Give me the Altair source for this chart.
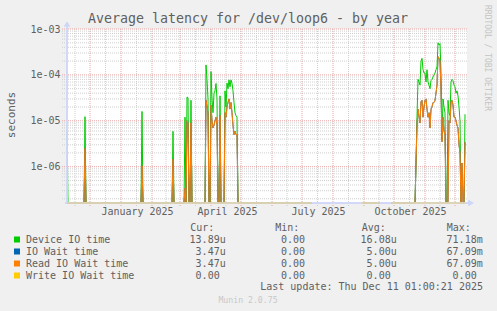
import altair as alt
import pandas as pd

# ---------------- data ----------------
START = pd.Timestamp("2024-11-08")      # left edge of the time axis
END = pd.Timestamp("2025-12-13")        # right edge of the time axis
LAST_DAY = 398                          # last day with data (Dec 11 2025)

# day offsets (from START) where latency is non-zero; seconds
days = [0, 18, 75, 106, 118, 120, 121, 124,
        139, 140, 141, 144, 145, 146, 147, 148, 149, 150,
        153, 158, 159, 160, 161, 162, 163, 164, 165, 166, 167, 168, 169, 170,
        349, 350, 351, 352, 353, 354, 355, 356, 357, 358, 359, 360, 361, 362,
        363, 364, 365, 366, 367, 368, 369, 370, 371, 372, 373, 374, 375, 376,
        377, 378, 381, 382, 383, 384, 385, 386, 387, 388, 389, 390, 391, 392,
        393, 395, 398]
device_io = [6e-6, 1.23e-5, 1.6e-5, 5.9e-6, 1.2e-5, 3.3e-5, 3.2e-5, 2.8e-5,
             1.65e-4, 8e-5, 3e-5, 1.18e-4, 3e-5, 1.5e-5, 4e-5, 4.5e-5, 6.5e-5, 3e-5,
             3.5e-5, 4.5e-5, 2e-5, 6.6e-5, 5e-5, 7.8e-5, 5.5e-5, 7.8e-5, 6.5e-5, 4.5e-5, 2.5e-5, 1.5e-5, 1.3e-5, 1.2e-5,
             1.2e-6, 1.2e-5, 8e-5, 7e-5, 6e-5, 2e-4, 2.3e-4, 1.3e-4, 1.1e-4, 1.1e-4, 7e-5, 1.3e-4, 7e-5, 6e-5,
             5e-5, 7.5e-5, 8e-5, 9e-5, 1e-4, 1.1e-4, 1.3e-4, 1.5e-4, 5e-4, 4.5e-4, 4.8e-4, 1.2e-4, 4e-6, 3e-5,
             2e-5, 1.5e-5, 2.8e-5, 1.5e-5, 1.3e-5, 7e-5, 8e-5, 7.5e-5, 6e-5, 5.5e-5, 4e-5, 4.5e-5, 3.5e-5, 2e-5,
             1e-5, 0, 1.389e-5]
read_io = [0, 2.5e-6, 1.05e-6, 1.45e-6, 3.4e-7, 1e-5, 9e-6, 9e-6,
           2.8e-5, 2e-5, 1.5e-5, 2.2e-5, 1e-5, 7e-6, 8e-6, 1e-5, 1.2e-5, 8e-6,
           1.3e-5, 1.5e-5, 1.2e-5, 2e-5, 2.5e-5, 3e-5, 1.8e-5, 2.5e-5, 1.5e-5, 8e-6, 5e-6, 6e-6, 5e-6, 5e-6,
           1.2e-6, 8e-6, 1.8e-5, 1.2e-5, 9e-6, 2.6e-5, 2.8e-5, 1.2e-5, 2e-5, 2.8e-5, 3e-5, 1.8e-5, 1.2e-5, 1.5e-5,
           7e-6, 1.8e-5, 2e-5, 2.5e-5, 2.5e-5, 2.8e-5, 4e-5, 6e-5, 2.5e-4, 2.3e-4, 2e-4, 5e-5, 3.5e-6, 1.2e-5,
           6e-6, 5e-6, 0, 1e-5, 9e-6, 2.6e-5, 2.8e-5, 2.2e-5, 1.2e-5, 1.2e-5, 1e-5, 8e-6, 7e-6, 3e-6,
           2e-6, 1.2e-6, 3.47e-6]
io_wait = list(read_io)                 # identical to read wait in the picture
no_data = [(246, 294), (314, 323)]      # day ranges without data

series_names = ["Device IO time", "IO Wait time", "Read IO Wait time", "Write IO Wait time"]
series_colors = ["#00CC00", "#0066B3", "#FF8000", "#FFCC00"]
cur_vals = ["13.89u", "3.47u", "3.47u", "0.00"]
min_vals = ["0.00", "0.00", "0.00", "0.00"]
avg_vals = ["16.08u", "5.00u", "5.00u", "0.00"]
max_vals = ["71.18m", "67.09m", "67.09m", "0.00"]

x_label_dates = ["2025-01-17", "2025-04-17", "2025-07-17", "2025-10-17"]
y_label_values = [1e-6, 1e-5, 1e-4, 1e-3]

# ---------------- build tables ----------------
maps = {
    "Device IO time": dict(zip(days, device_io)),
    "IO Wait time": dict(zip(days, io_wait)),
    "Read IO Wait time": dict(zip(days, read_io)),
    "Write IO Wait time": {},
}
rows = []
seg, prev_gap = 0, False
for d in range(LAST_DAY + 1):
    gap = any(a <= d <= b for a, b in no_data)
    if gap:
        if not prev_gap:
            seg += 1
        prev_gap = True
        continue
    prev_gap = False
    ts = (START + pd.Timedelta(days=d)).strftime("%Y-%m-%dT%H:%M:%SZ")
    for name in series_names:
        rows.append({"date": ts, "series": name, "value": maps[name].get(d, 0.0), "seg": seg})
df = pd.DataFrame(rows)

month_starts = pd.date_range("2024-11-01", "2025-12-01", freq="MS")
mid_months = [a + (b - a) / 2 for a, b in zip(month_starts[:-1], month_starts[1:])]
major_x = pd.DataFrame({"date": [m.strftime("%Y-%m-%dT%H:%M:%SZ") for m in month_starts if START <= m <= END]})
minor_x = pd.DataFrame({"date": [m.strftime("%Y-%m-%dT%H:%M:%SZ") for m in mid_months if START <= m <= END]})
major_y = pd.DataFrame({"v": [1e-6, 1e-5, 1e-4, 1e-3]})
minor_y = pd.DataFrame({"v": [k * 10.0 ** e for e in range(-7, -3) for k in range(2, 10) if k * 10.0 ** e > 1.62e-7]})

# ---------------- scales / axes ----------------
FONT = "DejaVu Sans Mono"
TXT = "#606060"
W, H = 400, 174


def dt(s):
    t = pd.Timestamp(s)
    return alt.DateTime(year=t.year, month=t.month, date=t.day, utc=True)


xscale = alt.Scale(type="utc", domain=[dt(START), dt(END)])
yscale = alt.Scale(type="log", domain=[1.62e-7, 1e-3], clamp=True, nice=False, zero=False)
xaxis = alt.Axis(values=[dt(s) for s in x_label_dates], labelExpr="utcFormat(datum.value, '%B %Y')",
                 title=None, grid=False, ticks=False, tickSize=0, domain=False,
                 labelFont=FONT, labelFontSize=10, labelColor=TXT, labelPadding=11,
                 labelBaseline="alphabetic", labelFlush=False, labelOverlap=False)
yaxis = alt.Axis(values=y_label_values, labelExpr="'1e-0' + round(-log(datum.value) / LN10)",
                 title=None, grid=False, ticks=False, tickSize=0, domain=False,
                 labelFont=FONT, labelFontSize=10, labelColor=TXT, labelPadding=7,
                 labelBaseline="middle", labelFlush=False, labelOverlap=False)


def X(field="date:T"):
    return alt.X(field, scale=xscale, axis=xaxis)


def Y(field="v:Q"):
    return alt.Y(field, scale=yscale, axis=yaxis)


layers = []
# grid
layers.append(alt.Chart(minor_y).mark_rule(color="#cfcfcf", strokeWidth=1, strokeDash=[1, 1]).encode(
    y=Y(), x=alt.value(-5), x2=alt.value(W + 1)))
layers.append(alt.Chart(minor_x).mark_rule(color="#cfcfcf", strokeWidth=1, strokeDash=[1, 1]).encode(
    x=X(), y=alt.value(0), y2=alt.value(H + 4)))
layers.append(alt.Chart(major_x).mark_rule(color="#e8a4a4", strokeWidth=1, strokeDash=[1, 1]).encode(
    x=X(), y=alt.value(0), y2=alt.value(H + 4)))
layers.append(alt.Chart(major_y).mark_rule(color="#e8a4a4", strokeWidth=1, strokeDash=[1, 1]).encode(
    y=Y(), x=alt.value(-5), x2=alt.value(W + 1)))

# data lines
for name, col in zip(series_names[:3], series_colors[:3]):
    layers.append(alt.Chart(df).transform_filter(alt.datum.series == name)
                  .transform_calculate(v="max(datum.value, 1e-9)")
                  .mark_line(color=col, strokeWidth=1, interpolate="linear")
                  .encode(x=X(), y=Y(), detail="seg:N", order="date:T"))

# axis lines + arrows
axis_col = "#CFD6F8"
layers.append(alt.Chart(major_y).mark_rule(color=axis_col, strokeWidth=1).encode(
    x=alt.value(0), y=alt.value(H + 1), y2=alt.value(-6)))
layers.append(alt.Chart(major_y).mark_rule(color=axis_col, strokeWidth=1).encode(
    y=alt.value(H), x=alt.value(-2), x2=alt.value(W + 3)))
layers.append(alt.Chart(major_y).mark_point(shape="triangle-up", size=30, filled=True, opacity=1,
                                            color=axis_col).encode(x=alt.value(0), y=alt.value(-5)))
layers.append(alt.Chart(major_y).mark_point(shape="triangle-right", size=30, filled=True, opacity=1,
                                            color=axis_col).encode(x=alt.value(W + 4), y=alt.value(H)))

# write IO (zero) drawn over the bottom axis
name = series_names[3]
layers.append(alt.Chart(df).transform_filter(alt.datum.series == name)
              .transform_calculate(v="max(datum.value, 1e-9)")
              .mark_line(color=series_colors[3], strokeWidth=1, opacity=0.5)
              .encode(x=X(), y=Y(), detail="seg:N", order="date:T"))

# ---------------- texts ----------------
OX, OY = 67, 29  # page position of plot origin


def text_layer(rows_, **kw):
    d = pd.DataFrame(rows_)
    base = dict(font=FONT, fontSize=10, color=TXT)
    base.update(kw)
    return alt.Chart(d).mark_text(**base).encode(
        x=alt.X("px:Q", scale=None, axis=None), y=alt.Y("py:Q", scale=None, axis=None), text="t:N")


layers.append(text_layer([{"t": "Average latency for /dev/loop6 - by year", "px": 248 - OX, "py": 23 - OY}],
                         fontSize=13.3, align="center", baseline="alphabetic"))
layers.append(text_layer([{"t": "seconds", "px": 11.5 - OX, "py": 115 - OY}],
                         fontSize=11, angle=270, align="center", baseline="middle"))
layers.append(text_layer([{"t": "RRDTOOL / TOBI OETIKER", "px": 487 - OX, "py": 5 - OY}],
                         fontSize=8, angle=90, align="left", baseline="middle", color="#c4c4c4"))

# legend table
rows_y = [239.5 + 12 * i for i in range(4)]
sq = pd.DataFrame({"px": [17 - OX] * 4, "py": [y - OY for y in rows_y], "c": series_colors})
layers.append(alt.Chart(sq).mark_square(size=36, opacity=1).encode(
    x=alt.X("px:Q", scale=None, axis=None), y=alt.Y("py:Q", scale=None, axis=None),
    color=alt.Color("c:N", scale=None)))
layers.append(text_layer([{"t": n, "px": 26 - OX, "py": y - OY} for n, y in zip(series_names, rows_y)],
                         align="left", baseline="middle"))
headers = [("Cur:", 190.3), ("Min:", 275.3), ("Avg:", 361.7), ("Max:", 446.7)]
layers.append(text_layer([{"t": h, "px": x - OX, "py": 228 - OY} for h, x in headers],
                         align="left", baseline="middle"))
cells = []
for vals, right in [(cur_vals, 225.7), (min_vals, 311.0), (avg_vals, 396.7), (max_vals, 482.7)]:
    for i, v in enumerate(vals):
        shift = 0 if v[-1].isalpha() else 6.02
        if vals is min_vals:
            shift = 6.02
        cells.append({"t": v, "px": right - shift - OX, "py": rows_y[i] - OY})
layers.append(text_layer(cells, align="right", baseline="middle"))
layers.append(text_layer([{"t": "Last update: Thu Dec 11 01:00:21 2025", "px": 483 - OX, "py": 287 - OY}],
                         align="right", baseline="middle"))
layers.append(text_layer([{"t": "Munin 2.0.75", "px": 248 - OX, "py": 300.5 - OY}],
                         fontSize=8.2, align="center", baseline="middle", color="#c8c8c8"))

chart = alt.layer(*layers).properties(
    width=W, height=H,
    padding={"left": OX, "top": OY, "right": 497 - OX - W, "bottom": 311 - OY - H},
    autosize=alt.AutoSizeParams(type="none"),
    background="#F0F0F0",
).configure_view(fill="#FFFFFF", strokeWidth=0)

chart.save("out.html", embed_options={"renderer": "svg", "actions": False})
